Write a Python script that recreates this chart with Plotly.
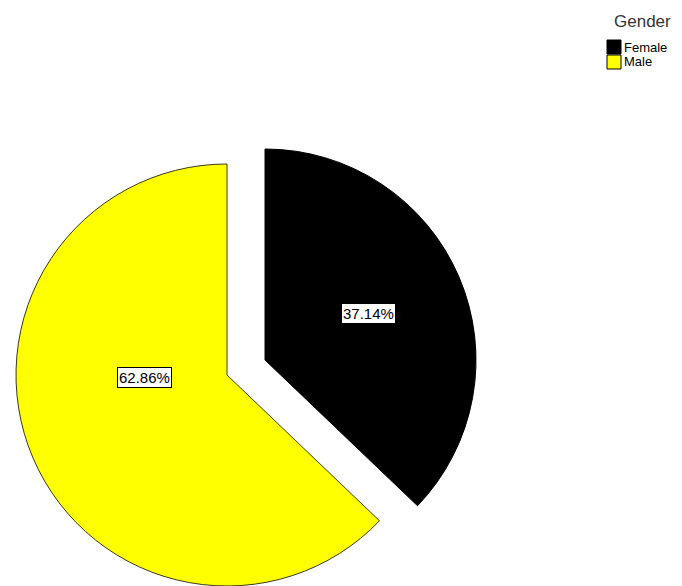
import plotly.graph_objects as go

categories = ["Female", "Male"]
percents = [37.14, 62.86]
colors = ["#000000", "#ffff00"]
legend_title = "Gender"

# The page body adds an 8px margin, so the paper is placed at (8, 8) in the window.
OFF = 8
W, H = 682 - 2 * OFF, 586 - OFF
R = 211
FONT = "Liberation Sans, Arial, sans-serif"


def px(xw):
    return (xw - OFF) / W


def py(yw):
    return 1 - (yw - OFF) / H


def dom(cx, cy, r):
    return dict(x=[px(cx - r), px(cx + r)], y=[py(cy + r), py(cy - r)])


fig = go.Figure()

# Male slice (in place)
fig.add_trace(go.Pie(
    labels=categories, values=percents, sort=False, direction="clockwise", rotation=0,
    marker=dict(colors=["rgba(0,0,0,0)", colors[1]],
                line=dict(color=["rgba(0,0,0,0)", "#3a3a1a"], width=1)),
    textinfo="none", hoverinfo="label+percent", showlegend=False,
    domain=dom(227, 375, R),
))
# Female slice (exploded)
fig.add_trace(go.Pie(
    labels=categories, values=percents, sort=False, direction="clockwise", rotation=0,
    marker=dict(colors=[colors[0], "rgba(0,0,0,0)"],
                line=dict(color=["#000000", "rgba(0,0,0,0)"], width=1)),
    textinfo="none", hoverinfo="label+percent", showlegend=False,
    domain=dom(265, 360, R),
))

# value labels with boxes
label_pos = {"Female": (368.5, 313), "Male": (144.5, 377)}
for c, v in zip(categories, percents):
    xw, yw = label_pos[c]
    fig.add_annotation(
        x=px(xw), y=py(yw), xref="paper", yref="paper", showarrow=False,
        xanchor="center", yanchor="middle",
        text=f"{v:.2f}%", font=dict(family=FONT, size=15, color="#000000"),
        bgcolor="#ffffff", bordercolor="#000000", borderwidth=1, borderpad=1,
    )

# legend (title, swatches, names)
fig.add_annotation(
    x=px(612), y=py(21), xref="paper", yref="paper", showarrow=False,
    xanchor="left", yanchor="middle", text=legend_title,
    font=dict(family=FONT, size=17, color="#333333"),
)
row_y = [47, 62]
for c, col, yc in zip(categories, colors, row_y):
    fig.add_shape(
        type="rect", xref="paper", yref="paper",
        x0=px(607), x1=px(621), y0=py(yc + 7), y1=py(yc - 7),
        fillcolor=col, line=dict(color="#000000", width=1),
    )
    fig.add_annotation(
        x=px(623), y=py(yc), xref="paper", yref="paper", showarrow=False,
        xanchor="left", yanchor="middle", text=c,
        font=dict(family=FONT, size=13, color="#000000"),
        borderpad=0,
    )

fig.update_layout(
    width=W, height=H, margin=dict(l=0, r=0, t=0, b=0),
    paper_bgcolor="white", plot_bgcolor="white",
    showlegend=False,
)

fig.write_html("out.html")
